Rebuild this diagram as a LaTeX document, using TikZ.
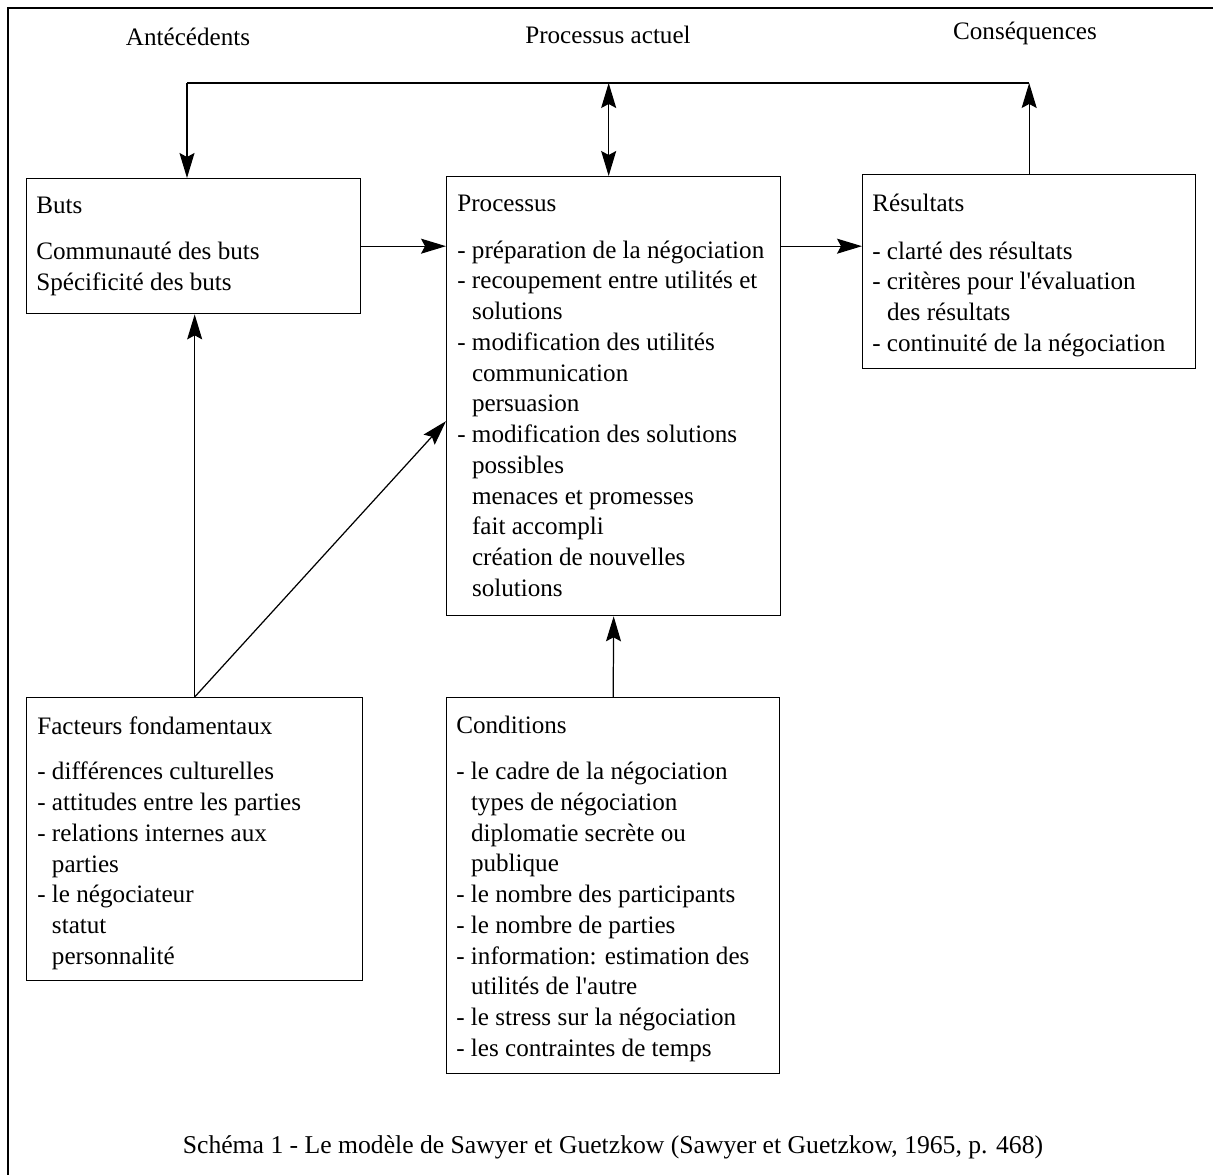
\documentclass[tikz,border=0pt]{standalone}
\usepackage{fontspec}
\setmainfont{Liberation Serif}
\usetikzlibrary{arrows.meta,positioning}
\newcommand{\ind}{\phantom{- }}
\newcommand{\apos}{\textquotesingle}
\tikzset{
  box/.style={draw, line width=0.8pt, anchor=north west, inner sep=0pt},
  boxtext/.style={anchor=north west, align=left, inner sep=0pt,
    font=\fontsize{14.3}{17.5}\selectfont},
  head/.style={inner sep=0pt, font=\fontsize{14.3}{17.5}\selectfont},
  tip/.tip={Stealth[length=0.5cm,width=0.3cm,inset=0.08cm]},
  arr/.style={-tip, line width=0.7pt},
  arrboth/.style={tip-tip, line width=0.7pt}
}
\begin{document}
\begin{tikzpicture}[x=0.02cm, y=-0.02cm]
\useasboundingbox (0,0) rectangle (1213,1175);
% frame
\draw[line width=1.1pt] (8,1175) -- (8,8) -- (1213,8);

% headers
\node[head] (hant) at (188,37) {Antécédents};
\node[head] (hproc) at (608,35) {Processus actuel};
\node[head] (hcons) at (1025,33) {Conséquences};

% boxes
\node[box, minimum width=6.68cm, minimum height=2.7cm] (buts) at (26,178) {};
\node[box, minimum width=6.68cm, minimum height=8.78cm] (proc) at (446,176) {};
\node[box, minimum width=6.66cm, minimum height=3.88cm] (res) at (862,174) {};
\node[box, minimum width=6.72cm, minimum height=5.66cm] (fact) at (26,697) {};
\node[box, minimum width=6.66cm, minimum height=7.52cm] (cond) at (446,697) {};

% box texts
\node[boxtext] (butstxt) at ([xshift=0.2cm, yshift=-0.38cm]buts.north west)
  {Buts\\[0.3cm]
   Communauté des buts\\
   Spécificité des buts};
\node[boxtext] (proctxt) at ([xshift=0.22cm, yshift=-0.38cm]proc.north west)
  {Processus\\[0.31cm]
   - préparation de la négociation\\
   - recoupement entre utilités et\\
   \ind solutions\\
   - modification des utilités\\
   \ind communication\\
   \ind persuasion\\
   - modification des solutions\\
   \ind possibles\\
   \ind menaces et promesses\\
   \ind fait accompli\\
   \ind création de nouvelles\\
   \ind solutions};
\node[boxtext] (restxt) at ([xshift=0.2cm, yshift=-0.4cm]res.north west)
  {Résultats\\[0.33cm]
   - clarté des résultats\\
   - critères pour l\apos évaluation\\
   \ind des résultats\\
   - continuité de la négociation};
\node[boxtext] (facttxt) at ([xshift=0.22cm, yshift=-0.38cm]fact.north west)
  {Facteurs fondamentaux\\[0.3cm]
   - différences culturelles\\
   - attitudes entre les parties\\
   - relations internes aux\\
   \ind parties\\
   - le négociateur\\
   \ind statut\\
   \ind personnalité};
\node[boxtext] (condtxt) at ([xshift=0.2cm, yshift=-0.38cm]cond.north west)
  {Conditions\\[0.3cm]
   - le cadre de la négociation\\
   \ind types de négociation\\
   \ind diplomatie secrète ou\\
   \ind publique\\
   - le nombre des participants\\
   - le nombre de parties\\
   - information: estimation des\\
   \ind utilités de l\apos autre\\
   - le stress sur la négociation\\
   - les contraintes de temps};

% caption
\node[head, font=\fontsize{14.6}{17.5}\selectfont] (caption) at (613,1147)
  {Schéma 1 - Le modèle de Sawyer et Guetzkow (Sawyer et Guetzkow, 1965, p. 468)};

% connectors
\coordinate (tl) at (187,83);
\coordinate (tr) at (res.north |- tl);
\coordinate (tm) at ([xshift=-0.1cm]proc.north |- tl);
\draw[line width=0.8pt] (tl) -- (tr);
\draw[arr] (tl) -- (tl |- buts.north);
\draw[arrboth] (tm) -- (tm |- proc.north);
\draw[arr] (res.north) -- (tr);
\draw[arr] (buts.east) -- (buts.east -| proc.west);
\draw[arr] (proc.east |- buts.east) -- (res.west |- buts.east);
\draw[arr] (fact.north) -- (fact.north |- buts.south);
\draw[arr] (fact.north) -- ([yshift=-0.5cm]proc.west);
\draw[arr] (cond.north) -- (proc.south);
\end{tikzpicture}
\end{document}
